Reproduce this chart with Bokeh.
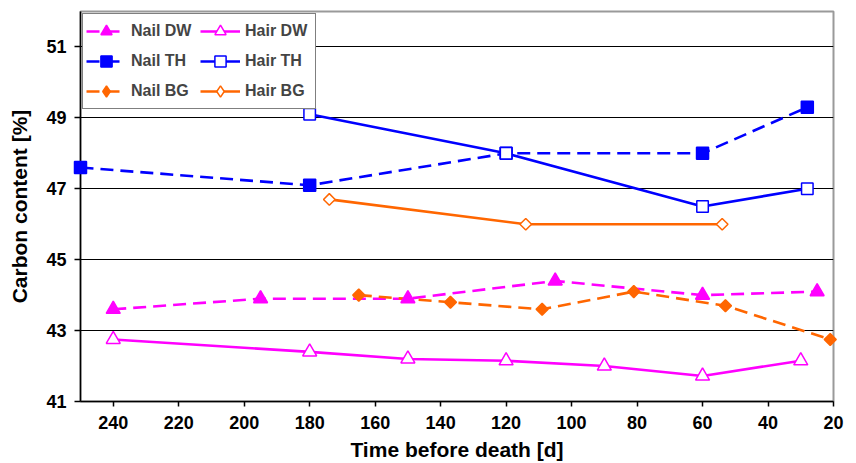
import numpy as np
from bokeh.plotting import figure
from bokeh.models import Range1d, FixedTicker, Legend, LegendItem
from bokeh.embed import file_html
from bokeh.resources import INLINE

# ---- data ----
x_nail_dw = [240, 195, 150, 105, 60, 25]
y_nail_dw = [43.6, 43.9, 43.9, 44.4, 44.0, 44.1]
x_hair_dw = [240, 180, 150, 120, 90, 60, 30]
y_hair_dw = [42.75, 42.4, 42.2, 42.15, 42.0, 41.72, 42.15]
x_nail_th = [250, 180, 120, 60, 28]
y_nail_th = [47.6, 47.1, 48.0, 48.0, 49.3]
x_hair_th = [180, 120, 60, 28]
y_hair_th = [49.1, 48.0, 46.5, 47.0]
x_nail_bg = [165, 137, 109, 81, 53, 21]
y_nail_bg = [44.0, 43.8, 43.6, 44.1, 43.7, 42.75]
x_hair_bg = [174, 114, 54]
y_hair_bg = [46.7, 46.0, 46.0]

x_ticks = [240, 220, 200, 180, 160, 140, 120, 100, 80, 60, 40, 20]
y_ticks = [41, 43, 45, 47, 49, 51]

MAGENTA = "#FF00FF"
BLUE = "#0000FF"
ORANGE = "#FF6600"
FONT = "Liberation Sans"
DASH = "13 7"

p = figure(width=856, height=463, output_backend="svg", toolbar_location=None,
           x_range=Range1d(250, 20), y_range=Range1d(41, 52),
           min_border_left=80, min_border_right=23, min_border_top=11, min_border_bottom=62)

p.outline_line_color = "#9a9a9a"
p.outline_line_width = 2
p.background_fill_color = "white"
p.border_fill_color = "white"

p.xgrid.visible = False
p.ygrid.grid_line_color = "black"
p.ygrid.grid_line_width = 1
p.ygrid.ticker = FixedTicker(ticks=y_ticks)

p.xaxis.ticker = FixedTicker(ticks=x_ticks)
p.yaxis.ticker = FixedTicker(ticks=y_ticks)
for ax in (p.xaxis[0], p.yaxis[0]):
    ax.axis_line_color = "black"
    ax.axis_line_width = 1.5
    ax.major_tick_line_color = "black"
    ax.major_tick_line_width = 1.5
    ax.major_tick_in = 0
    ax.minor_tick_line_color = None
    ax.major_label_text_font = FONT
    ax.major_label_text_font_style = "bold"
    ax.major_label_text_font_size = "18px"
    ax.major_label_text_color = "black"
    ax.axis_label_text_font = FONT
    ax.axis_label_text_font_style = "bold"
    ax.axis_label_text_font_size = "21px"
    ax.axis_label_text_color = "black"

p.xaxis.axis_label = "Time before death [d]"
p.yaxis.axis_label = "Carbon content [%]"
p.xaxis.major_tick_out = 5
p.yaxis.major_tick_out = 6
p.xaxis.major_label_standoff = 9
p.yaxis.major_label_standoff = 8
p.xaxis.axis_label_standoff = 6
p.yaxis.axis_label_standoff = 12


def series(xs, ys, color, dash, marker, size, filled, angle=0.0):
    lr = p.line(xs, ys, line_color=color, line_width=2.6, line_dash=dash)
    sr = p.scatter(xs, ys, marker=marker, size=size, angle=angle,
                   fill_color=color if filled else "white",
                   line_color=color, line_width=1.5, level="overlay")
    return [lr, sr]


def legend_key(xs, ys, color, filled):
    # small diamond hidden under the plotted markers; it supplies the legend key shape
    return p.scatter(xs, ys, marker="diamond", size=5, fill_color=color if filled else "white",
                     line_color=color, line_width=1.5)


r_nail_dw = series(x_nail_dw, y_nail_dw, MAGENTA, DASH, "triangle", 14, True)
r_hair_dw = series(x_hair_dw, y_hair_dw, MAGENTA, "solid", "triangle", 14, False)
r_nail_th = series(x_nail_th, y_nail_th, BLUE, DASH, "square", 12, True)
r_hair_th = series(x_hair_th, y_hair_th, BLUE, "solid", "square", 11.5, False)
k_nail_bg = legend_key(x_nail_bg, y_nail_bg, ORANGE, True)
k_hair_bg = legend_key(x_hair_bg, y_hair_bg, ORANGE, False)
r_nail_bg = series(x_nail_bg, y_nail_bg, ORANGE, DASH, "square", 8.5, True, np.pi / 4)
r_hair_bg = series(x_hair_bg, y_hair_bg, ORANGE, "solid", "square", 8.2, False, np.pi / 4)

legend = Legend(items=[
    LegendItem(label="Nail DW", renderers=r_nail_dw),
    LegendItem(label="Nail TH", renderers=r_nail_th),
    LegendItem(label="Nail BG", renderers=[r_nail_bg[0], k_nail_bg]),
    LegendItem(label="Hair DW", renderers=r_hair_dw),
    LegendItem(label="Hair TH", renderers=r_hair_th),
    LegendItem(label="Hair BG", renderers=[r_hair_bg[0], k_hair_bg]),
], ncols=2, location="top_left")
legend.margin = 2
legend.padding = 3
legend.spacing = 2
legend.glyph_width = 40
legend.glyph_height = 28
legend.label_height = 28
legend.label_width = 67
legend.label_standoff = 5
legend.label_text_font = FONT
legend.label_text_font_style = "bold"
legend.label_text_font_size = "16px"
legend.border_line_color = "black"
legend.border_line_width = 1.5
legend.background_fill_alpha = 1.0
p.add_layout(legend)

open("out.html", "w").write(file_html(p, INLINE))
